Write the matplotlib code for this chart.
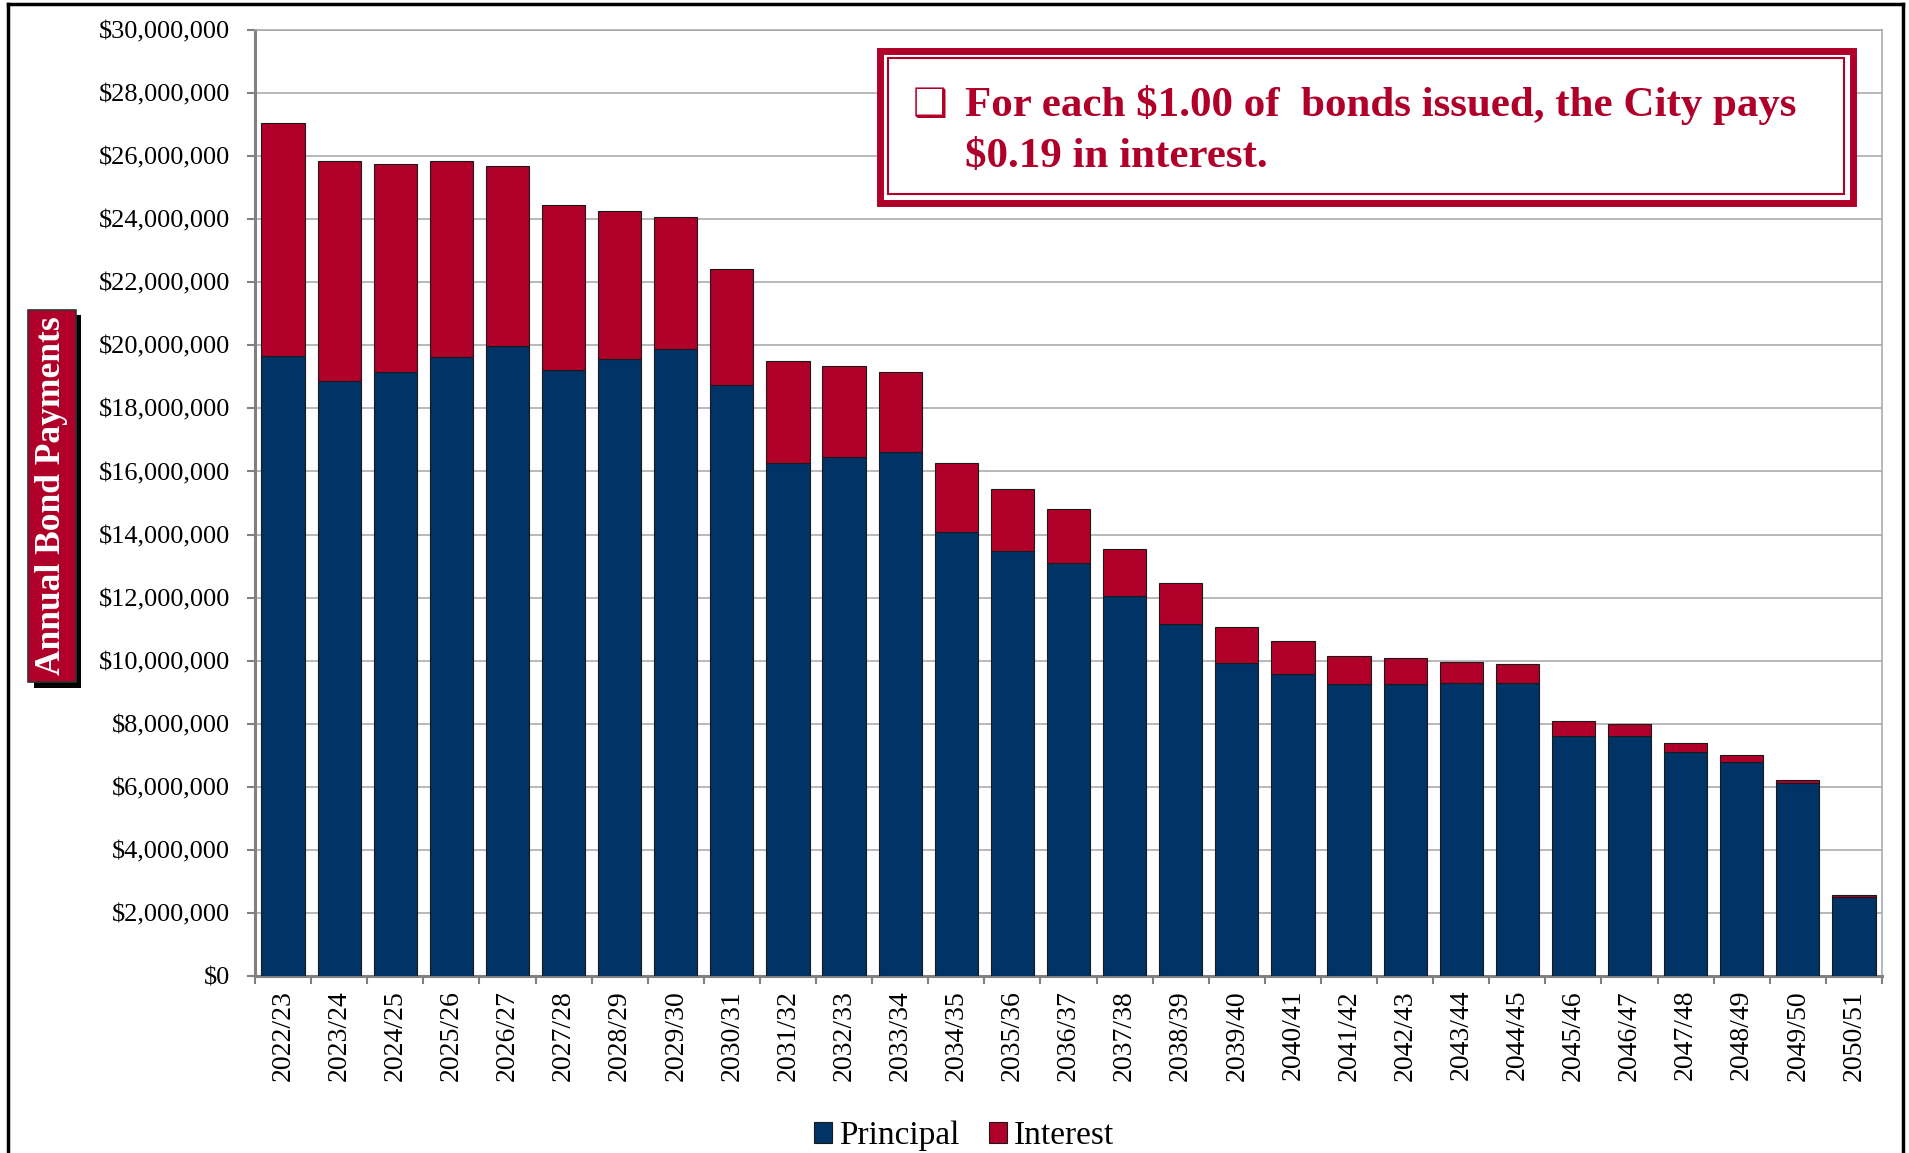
import numpy as np
import matplotlib.pyplot as plt
import matplotlib.patheffects as pe
from matplotlib.patches import Rectangle
from matplotlib.lines import Line2D
from matplotlib.ticker import FuncFormatter, MultipleLocator

plt.rcParams['font.family'] = ['Liberation Serif', 'DejaVu Sans']

years = ["2022/23", "2023/24", "2024/25", "2025/26", "2026/27", "2027/28", "2028/29",
         "2029/30", "2030/31", "2031/32", "2032/33", "2033/34", "2034/35", "2035/36",
         "2036/37", "2037/38", "2038/39", "2039/40", "2040/41", "2041/42", "2042/43",
         "2043/44", "2044/45", "2045/46", "2046/47", "2047/48", "2048/49", "2049/50",
         "2050/51"]
# millions of dollars
principal = [19.67, 18.88, 19.14, 19.64, 19.97, 19.23, 19.58, 19.89, 18.75, 16.28,
             16.45, 16.62, 14.08, 13.49, 13.11, 12.05, 11.15, 9.93, 9.58, 9.25,
             9.26, 9.28, 9.30, 7.60, 7.60, 7.09, 6.80, 6.11, 2.49]
interest = [7.39, 6.96, 6.62, 6.20, 5.71, 5.21, 4.69, 4.19, 3.67, 3.22,
            2.88, 2.52, 2.19, 1.94, 1.70, 1.48, 1.30, 1.13, 1.03, 0.90,
            0.81, 0.69, 0.59, 0.48, 0.39, 0.30, 0.20, 0.11, 0.09]

navy = '#003366'
red = '#B0002A'

W, H = 1909, 1153
fig = plt.figure(figsize=(W / 100, H / 100), dpi=100)

def fx(px):
    return px / W

def fy(py):
    return 1 - py / H

ax = fig.add_axes([fx(255), fy(976), fx(1882) - fx(255), fy(30) - fy(976)])

x = np.arange(len(years))
p = np.array(principal) * 1e6
i = np.array(interest) * 1e6
ax.bar(x, p, width=0.77, color=navy, edgecolor='#1a1a1a', linewidth=0.8, zorder=3)
ax.bar(x, i, bottom=p, width=0.77, color=red, edgecolor='#1a1a1a', linewidth=0.8, zorder=3)

ax.set_xlim(-0.5, len(years) - 0.5)
ax.set_ylim(0, 30e6)
ax.yaxis.set_major_locator(MultipleLocator(2e6))
ax.yaxis.set_major_formatter(FuncFormatter(lambda v, pos: "${:,.0f}".format(v)))
ax.grid(axis='y', color='#A6A6A6', linewidth=1.1, zorder=0)
ax.set_axisbelow(True)

ax.set_xticks(x)
ax.set_xticklabels(years, rotation=90, fontsize=20)
ax.set_xticks(np.arange(-0.5, len(years)), minor=True)
ax.tick_params(axis='x', which='major', length=0, pad=10)
ax.tick_params(axis='x', which='minor', length=6, width=1.5, color='#808080')
ax.tick_params(axis='y', length=6, width=1.5, color='#808080', labelsize=19, pad=12)

for s in ['left', 'bottom']:
    ax.spines[s].set_color('#808080')
    ax.spines[s].set_linewidth(2.2)
for s in ['right', 'top']:
    ax.spines[s].set_color('#A6A6A6')
    ax.spines[s].set_linewidth(1.1)

# y-axis title box with shadow
t = fig.text(fx(52), fy(496), "Annual Bond Payments", rotation=90, color='white',
             fontsize=25.5, fontweight='bold', ha='center', va='center',
             bbox=dict(boxstyle='square,pad=0.2', facecolor=red, edgecolor='#333333', linewidth=1.2))
t.get_bbox_patch().set_path_effects([
    pe.SimplePatchShadow(offset=(4, -4), shadow_rgbFace='black', alpha=1.0),
    pe.Normal()])

# note box with double border
outer = Rectangle((fx(879.5), fy(202.5)), fx(1852.5) - fx(879.5), fy(51.5) - fy(202.5),
                  transform=fig.transFigure, facecolor='white', edgecolor=red,
                  linewidth=5, zorder=5)
inner = Rectangle((fx(888), fy(194)), fx(1844) - fx(888), fy(58) - fy(194),
                  transform=fig.transFigure, facecolor='none', edgecolor=red,
                  linewidth=1.5, zorder=6)
fig.add_artist(outer)
fig.add_artist(inner)
fig.text(fx(913), fy(116), "\u2751", color=red, fontsize=28, va='baseline', ha='left',
         family=['DejaVu Sans'], zorder=7)
fig.text(fx(965), fy(116), "For each $1.00 of  bonds issued, the City pays", color=red,
         fontsize=31, fontweight='bold', va='baseline', ha='left', zorder=7)
fig.text(fx(965), fy(167), "$0.19 in interest.", color=red,
         fontsize=31, fontweight='bold', va='baseline', ha='left', zorder=7)

# legend
handles = [Rectangle((0, 0), 1, 1, facecolor=navy, edgecolor='#1a1a1a', linewidth=0.8),
           Rectangle((0, 0), 1, 1, facecolor=red, edgecolor='#1a1a1a', linewidth=0.8)]
fig.legend(handles, ["Principal", "Interest"], loc='center', ncol=2, frameon=False,
           fontsize=24, bbox_to_anchor=(fx(964), fy(1136)), handlelength=0.55,
           handleheight=0.55, handletextpad=0.2, columnspacing=0.9)

# outer frame
for xs, ys in [((8, 8), (4, H)), ((8, 1903), (4, 4)), ((1903, 1903), (4, H))]:
    fig.add_artist(Line2D([fx(xs[0]), fx(xs[1])], [fy(ys[0]), fy(ys[1])],
                          transform=fig.transFigure, color='black', linewidth=2.5))

fig.savefig("out.png", dpi=100)
